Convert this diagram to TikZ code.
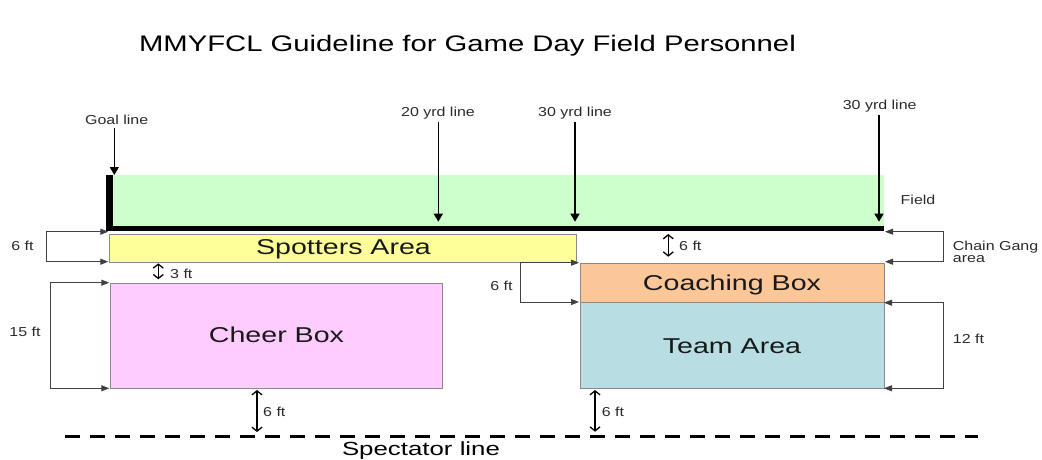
\documentclass[tikz,border=0pt]{standalone}
\usepackage{fontspec}
\setmainfont{Liberation Sans}
\usepackage{graphicx}
\usetikzlibrary{arrows.meta}
\newcommand{\hsc}[2]{\scalebox{#1}[1]{#2}}
\definecolor{fieldgreen}{HTML}{CCFFCC}
\definecolor{spotyellow}{HTML}{FFFF99}
\definecolor{cheerpink}{HTML}{FFCCFF}
\definecolor{coachorange}{HTML}{FBC799}
\definecolor{teamteal}{HTML}{B8DEE3}
\definecolor{boxgray}{HTML}{8A8A8A}
\definecolor{brgray}{HTML}{404040}
\definecolor{txtgray}{HTML}{2A2A2A}
\begin{document}
\begin{tikzpicture}[x=1pt,y=-1pt,
  smalltxt/.style={font=\fontsize{13}{15}\selectfont, text=txtgray, inner sep=0pt, anchor=base},
  bigtxt/.style={font=\fontsize{21.5}{24}\selectfont, text=black!90, inner sep=0pt, anchor=base},
  areabox/.style={draw=boxgray, line width=0.8pt, inner sep=0pt, anchor=north west},
  bracket/.style={draw=brgray, line width=1pt, {Triangle[length=8pt,width=6pt]}-{Triangle[length=8pt,width=6pt]}},
  dimarrow/.style={line width=1.3pt, {Straight Barb[length=4pt,width=10pt]}-{Straight Barb[length=4pt,width=10pt]}},
  pointer/.style={line width=1.4pt, -{Triangle[length=8pt,width=9pt]}}
]
\useasboundingbox (0,0) rectangle (1042,460);

% title
\node[font=\fontsize{22.5}{26}\selectfont, inner sep=0pt, anchor=base] (title) at (467.5,52) {\hsc{1.3}{MMYFCL Guideline for Game Day Field Personnel}};

% field
\node[fill=fieldgreen, inner sep=0pt, anchor=north west, minimum width=771.3pt, minimum height=53pt] (field) at (112.7,175) {};
\fill (106,175) rectangle (112.7,230.7);
\coordinate (lineL) at (106,228.3);
\coordinate (lineR) at (884,228.3);
\draw[line width=4.7pt] (lineL) -- (lineR);
\node[smalltxt] (fieldlbl) at (918,204) {\hsc{1.23}{Field}};

% boxes
\node[areabox, fill=spotyellow, minimum width=466.2pt, minimum height=27.7pt] (spot) at (109.3,234) {};
\node[areabox, fill=cheerpink, minimum width=332pt, minimum height=105.6pt] (cheer) at (110,282.7) {};
\node[areabox, fill=coachorange, minimum width=304pt, minimum height=39.3pt] (coach) at (580,262.7) {};
\node[areabox, fill=teamteal, minimum width=304pt, minimum height=86.3pt] (team) at (580,302) {};

\node[bigtxt] (spotlbl) at (343.5,254.3) {\hsc{1.33}{Spotters Area}};
\node[bigtxt] (cheerlbl) at (276.5,342.3) {\hsc{1.33}{Cheer Box}};
\node[bigtxt] (coachlbl) at (732,290) {\hsc{1.33}{Coaching Box}};
\node[bigtxt] (teamlbl) at (732,353.5) {\hsc{1.33}{Team Area}};

% yard line pointers
\node[smalltxt] (goallbl) at (116.7,124.3) {\hsc{1.23}{Goal line}};
\node[smalltxt] (y20lbl) at (438,116) {\hsc{1.23}{20 yrd line}};
\node[smalltxt] (y30lbl) at (575,116) {\hsc{1.23}{30 yrd line}};
\node[smalltxt] (y30rlbl) at (879.7,110) {\hsc{1.23}{30 yrd line}};
\coordinate (g1) at (114.3,128.3); \coordinate (g2) at (114.3,175);
\coordinate (a1) at (438.3,121.7); \coordinate (a2) at (438.3,221.7);
\coordinate (b1) at (575,121.7);   \coordinate (b2) at (575,221.7);
\coordinate (c1) at (879,115);     \coordinate (c2) at (879,221.7);
\draw[pointer] (g1) -- (g2);
\draw[pointer] (a1) -- (a2);
\draw[pointer] (b1) -- (b2);
\draw[pointer] (c1) -- (c2);

% brackets
\coordinate (l6a) at (108.3,231.7); \coordinate (l6b) at (46.7,231.7);
\coordinate (l6c) at (46.7,261.7);  \coordinate (l6d) at (108.3,261.7);
\draw[bracket] (l6a) -- (l6b) -- (l6c) -- (l6d);
\node[smalltxt] (l6lbl) at (22.5,250.7) {\hsc{1.23}{6 ft}};

\coordinate (f15a) at (109.3,282.7); \coordinate (f15b) at (50.7,282.7);
\coordinate (f15c) at (50.7,388.3);  \coordinate (f15d) at (109.3,388.3);
\draw[bracket] (f15a) -- (f15b) -- (f15c) -- (f15d);
\node[smalltxt] (f15lbl) at (25,336) {\hsc{1.23}{15 ft}};

\coordinate (c6a) at (579,262.7); \coordinate (c6b) at (520.7,262.7);
\coordinate (c6c) at (520.7,302); \coordinate (c6d) at (579,302);
\draw[bracket] (c6a) -- (c6b) -- (c6c) -- (c6d);
\node[smalltxt] (c6lbl) at (501.5,290.7) {\hsc{1.23}{6 ft}};

\coordinate (cga) at (885,231.7); \coordinate (cgb) at (943,231.7);
\coordinate (cgc) at (943,261.7); \coordinate (cgd) at (885,261.7);
\draw[bracket] (cga) -- (cgb) -- (cgc) -- (cgd);
\node[smalltxt, anchor=base west] (cglbl1) at (952.7,250) {\hsc{1.23}{Chain Gang}};
\node[smalltxt, anchor=base west] (cglbl2) at (952.7,262.7) {\hsc{1.23}{area}};

\coordinate (t12a) at (884,302.7);   \coordinate (t12b) at (943.3,302.7);
\coordinate (t12c) at (943.3,388.3); \coordinate (t12d) at (884,388.3);
\draw[bracket] (t12a) -- (t12b) -- (t12c) -- (t12d);
\node[smalltxt, anchor=base west] (t12lbl) at (952.7,343) {\hsc{1.23}{12 ft}};

% dimension arrows
\coordinate (d3a) at (158.3,263.3); \coordinate (d3b) at (158.3,279.3);
\draw[dimarrow] (d3a) -- (d3b);
\node[smalltxt, anchor=base west] (d3lbl) at (170,278.3) {\hsc{1.23}{3 ft}};

\coordinate (d6a) at (668.3,234); \coordinate (d6b) at (668.3,256.7);
\draw[dimarrow] (d6a) -- (d6b);
\node[smalltxt, anchor=base west] (d6lbl) at (679,250) {\hsc{1.23}{6 ft}};

\coordinate (e6a) at (257,390); \coordinate (e6b) at (257,432);
\draw[dimarrow] (e6a) -- (e6b);
\node[smalltxt, anchor=base west] (e6lbl) at (263,416.5) {\hsc{1.23}{6 ft}};

\coordinate (h6a) at (595,390); \coordinate (h6b) at (595,431.7);
\draw[dimarrow] (h6a) -- (h6b);
\node[smalltxt, anchor=base west] (h6lbl) at (601.7,416.7) {\hsc{1.23}{6 ft}};

% spectator line
\coordinate (specL) at (65,436); \coordinate (specR) at (978,436);
\draw[line width=3pt, dash pattern=on 15pt off 10pt] (specL) -- (specR);
\node[font=\fontsize{19}{22}\selectfont, inner sep=0pt, anchor=base] (speclbl) at (421,455) {\hsc{1.36}{Spectator line}};
\end{tikzpicture}
\end{document}
